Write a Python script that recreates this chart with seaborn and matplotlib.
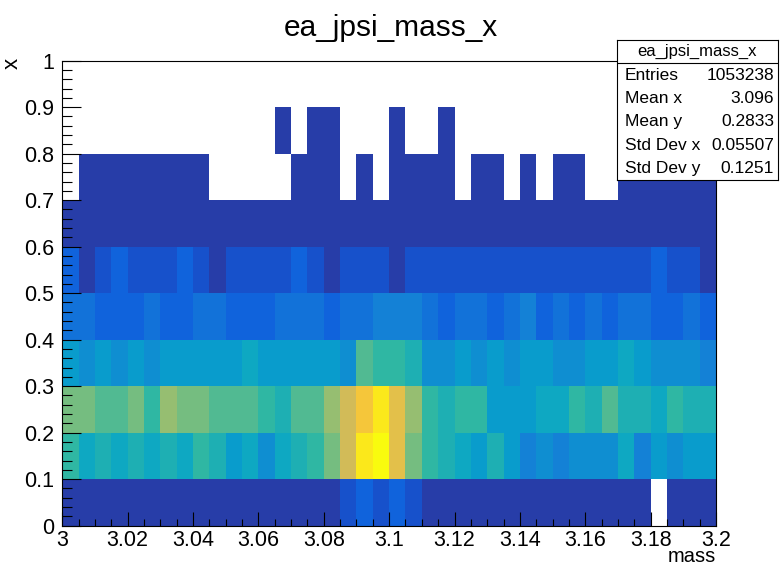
import numpy as np
import pandas as pd
import matplotlib
matplotlib.use('Agg')
import matplotlib.pyplot as plt
from matplotlib import font_manager
from matplotlib.colors import LinearSegmentedColormap, ListedColormap
from matplotlib.ticker import MultipleLocator, FuncFormatter
import seaborn as sns

# ============================================
# data: 40 mass bins (3.0 - 3.2), 9 filled x bins (0 - 0.9)
# ============================================
MASS_EDGES = np.linspace(3.0, 3.2, 41)
X_EDGES = np.linspace(0.0, 0.9, 10)

counts_x00 = [310, 280, 330, 300, 350, 320, 290, 340, 360, 330,
              310, 350, 370, 340, 390, 420, 560, 1180, 2050, 1400,
              1900, 1050, 620, 480, 400, 370, 350, 330, 340, 310,
              320, 300, 290, 300, 280, 270, 0, 260, 250, 240]
counts_x01 = [7420, 5810, 6700, 5920, 6630, 5870, 6720, 5950, 7510, 6610,
              5150, 5840, 4380, 5900, 6690, 7480, 9050, 11400, 14560, 15700,
              12130, 9010, 7440, 6650, 5860, 5080, 6700, 5120, 3560, 4300,
              3490, 4350, 4290, 4330, 5880, 3550, 5130, 4310, 5070, 5150]
counts_x02 = [9060, 8990, 8210, 8270, 9020, 7480, 9830, 9010, 9050, 8230,
              8260, 8200, 7440, 6700, 8250, 8220, 9800, 11350, 12980, 14500,
              12150, 9790, 7470, 6680, 7430, 7400, 5110, 5080, 5130, 5900,
              5870, 7460, 6690, 8240, 6650, 6700, 5890, 7450, 6680, 6640]
counts_x03 = [5120, 4350, 5080, 4290, 5140, 4330, 5060, 5110, 5090, 5130,
              5070, 5860, 5100, 5120, 5080, 5140, 5050, 4380, 8230, 7500,
              7420, 6700, 4340, 4300, 5090, 4310, 5120, 4280, 5060, 5100,
              4330, 4290, 5070, 5110, 5850, 5080, 4320, 4280, 4310, 3540]
counts_x04 = [2760, 2720, 1990, 1950, 2010, 2780, 1940, 1980, 2740, 2790,
              1970, 1930, 2000, 2730, 2770, 2750, 1960, 2740, 2790, 3520,
              3560, 3490, 2720, 1990, 2760, 2710, 1980, 2750, 3510, 1940,
              2730, 1960, 2740, 1990, 2770, 2720, 1950, 1980, 2710, 1930]
counts_x05 = [1990, 690, 1210, 1960, 1150, 1180, 1220, 1940, 1170, 710,
              1190, 1160, 1200, 1230, 1970, 1180, 740, 1160, 1190, 1210,
              720, 1170, 1150, 1200, 1180, 1140, 1170, 1160, 1190, 1150,
              1130, 1160, 1120, 1140, 1110, 1130, 1920, 1100, 1090, 680]
counts_x06 = [180, 200, 210, 190, 220, 230, 210, 240, 250, 230,
              220, 240, 260, 250, 270, 290, 300, 320, 350, 380,
              340, 310, 290, 260, 250, 240, 230, 220, 230, 210,
              200, 220, 190, 200, 180, 190, 170, 180, 160, 150]
counts_x07 = [0, 8, 10, 9, 11, 12, 10, 11, 9, 0,
              0, 0, 0, 0, 12, 14, 13, 0, 15, 0,
              16, 14, 12, 11, 0, 10, 9, 0, 8, 0,
              9, 8, 0, 0, 7, 8, 6, 7, 6, 5]
counts_x08 = [0, 0, 0, 0, 0, 0, 0, 0, 0, 0,
              0, 0, 0, 2, 0, 3, 2, 0, 0, 0,
              3, 0, 0, 2, 0, 0, 0, 0, 0, 0,
              0, 0, 0, 0, 0, 0, 0, 0, 0, 0]

STATS_LABELS = ['Entries', 'Mean x', 'Mean y', 'Std Dev x', 'Std Dev y']
STATS_VALUES = ['1053238', '3.096', '0.2833', '0.05507', '0.1251']
TITLE = 'ea_jpsi_mass_x'

# ============================================
# ROOT "bird" palette, 20 contour levels
# ============================================
stops = [0.0, 0.125, 0.25, 0.375, 0.5, 0.625, 0.75, 0.875, 1.0]
red = [0.2082, 0.0592, 0.0780, 0.0232, 0.1802, 0.5301, 0.8186, 0.9956, 0.9764]
green = [0.1664, 0.3599, 0.5041, 0.6419, 0.7178, 0.7492, 0.7328, 0.7862, 0.9832]
blue = [0.5293, 0.8684, 0.8385, 0.7914, 0.6425, 0.4662, 0.3499, 0.1968, 0.0539]
bird = LinearSegmentedColormap.from_list('bird', list(zip(stops, zip(red, green, blue))))
bird20 = ListedColormap([bird((i + 1) / 20) for i in range(20)])

# fonts: helvetica-like
names = {f.name for f in font_manager.fontManager.ttflist}
FONT = 'Liberation Sans Narrow' if 'Liberation Sans Narrow' in names else 'Liberation Sans'
plt.rcParams['font.family'] = [FONT, 'DejaVu Sans']

# long-form table for histplot
rows = [counts_x00, counts_x01, counts_x02, counts_x03, counts_x04,
        counts_x05, counts_x06, counts_x07, counts_x08]
mass_c = (MASS_EDGES[:-1] + MASS_EDGES[1:]) / 2
x_c = (X_EDGES[:-1] + X_EDGES[1:]) / 2
df = pd.DataFrame({
    'mass': np.tile(mass_c, len(rows)),
    'x': np.repeat(x_c, len(mass_c)),
    'n': np.concatenate(rows),
})

W, H = 781, 565
fig = plt.figure(figsize=(W / 100, H / 100), dpi=100)
ax = fig.add_axes([62.3 / W, 1 - 525.7 / H, 653.7 / W, 465.1 / H])

sns.histplot(data=df, x='mass', y='x', weights='n', bins=[MASS_EDGES, X_EDGES],
             cmap=bird20, vmin=0, vmax=df['n'].max(), ax=ax)

ax.set_xlim(3.0, 3.2)
ax.set_ylim(0, 1)
ax.set_xlabel('')
ax.set_ylabel('')


def root_fmt(v, pos):
    s = f'{v:.3f}'.rstrip('0').rstrip('.')
    return '0' if s in ('-0', '') else s


ax.xaxis.set_major_locator(MultipleLocator(0.02))
ax.xaxis.set_minor_locator(MultipleLocator(0.005))
ax.yaxis.set_major_locator(MultipleLocator(0.1))
ax.yaxis.set_minor_locator(MultipleLocator(0.02))
ax.xaxis.set_major_formatter(FuncFormatter(root_fmt))
ax.yaxis.set_major_formatter(FuncFormatter(root_fmt))
ax.tick_params(axis='both', which='both', direction='in', width=0.8, colors='black', labelsize=15.5)
ax.tick_params(axis='x', which='major', length=10, pad=3)
ax.tick_params(axis='x', which='minor', length=5)
ax.tick_params(axis='y', which='major', length=14, pad=6)
ax.tick_params(axis='y', which='minor', length=7)
for sp in ax.spines.values():
    sp.set_linewidth(0.8)
    sp.set_color('black')

# titles
fig.text(390.5 / W, 1 - 28 / H, TITLE, ha='center', va='center', fontsize=21.5)
fig.text(716 / W, 1 - 557 / H, 'mass', ha='right', va='center', fontsize=14.5)
fig.text(12 / W, 1 - 58 / H, 'x', ha='center', va='top', rotation=90, fontsize=16)

# stats box
box = fig.add_axes([617 / W, 1 - 180 / H, 161 / W, 140 / H])
box.set_xlim(0, 1)
box.set_ylim(0, 6)
box.set_xticks([])
box.set_yticks([])
box.set_facecolor('white')
for sp in box.spines.values():
    sp.set_linewidth(0.8)
box.axhline(5, color='black', lw=0.8)
box.text(0.5, 5.5, TITLE, ha='center', va='center', fontsize=12)
for i, (lab, val) in enumerate(zip(STATS_LABELS, STATS_VALUES)):
    yy = 4.5 - i
    box.text(0.05, yy, lab, ha='left', va='center', fontsize=12.5)
    box.text(0.975, yy, val, ha='right', va='center', fontsize=12.5)

fig.savefig('out.png', dpi=100)
